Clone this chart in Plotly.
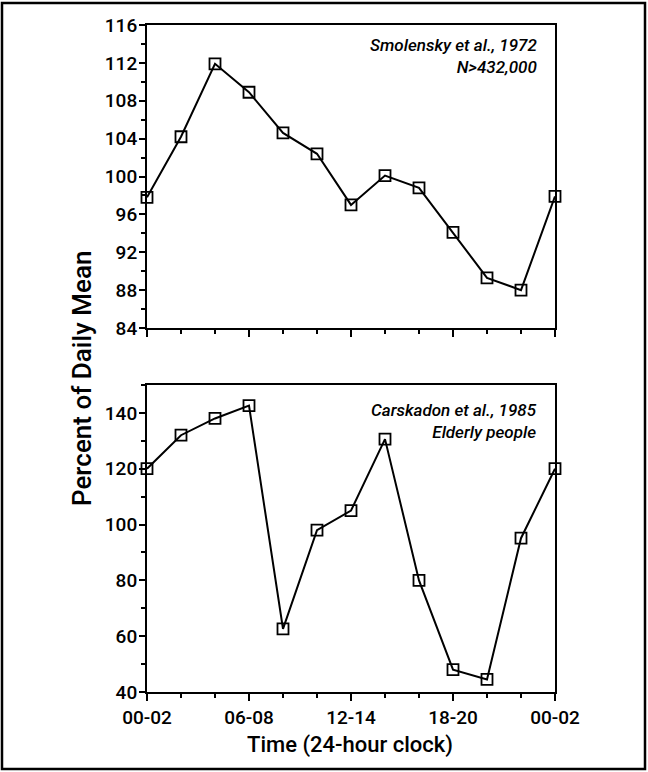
import plotly.graph_objects as go

# 2-hour bins, 00-02 through 22-24 and back to 00-02
slots = list(range(13))
tick_pos = [0, 3, 6, 9, 12]
tick_text = ["00-02", "06-08", "12-14", "18-20", "00-02"]

smolensky = [97.8, 104.2, 111.9, 108.9, 104.6, 102.4, 97.0, 100.1, 98.8, 94.1, 89.3, 88.0, 97.9]
carskadon = [120, 132, 138, 142.6, 62.6, 98, 105, 130.6, 80, 48, 44.5, 95.1, 120]

FONT = "Roboto, sans-serif"

fig = go.Figure()
marker = dict(symbol="square-open", size=11, color="black", line=dict(width=1.8))
line = dict(color="black", width=2)
fig.add_trace(go.Scatter(x=slots, y=smolensky, mode="lines+markers", marker=marker,
                         line=line, xaxis="x", yaxis="y", cliponaxis=False))
fig.add_trace(go.Scatter(x=slots, y=carskadon, mode="lines+markers", marker=marker,
                         line=line, xaxis="x2", yaxis="y2", cliponaxis=False))

axis_common = dict(showline=True, linecolor="black", linewidth=2, mirror=True,
                   showgrid=False, zeroline=False, ticks="outside", tickcolor="black",
                   tickwidth=2, tickfont=dict(family=FONT, size=19, color="black", weight=500))

xaxis = dict(axis_common, range=[0, 12], tickvals=tick_pos, ticklen=7,
             minor=dict(tickvals=slots, ticklen=4, tickwidth=1.5, tickcolor="black", ticks="outside"))

fig.update_layout(
    width=648, height=772,
    margin=dict(l=147, r=93, t=25, b=80),
    plot_bgcolor="white", paper_bgcolor="white",
    showlegend=False,
    xaxis=dict(xaxis, anchor="y", showticklabels=False),
    yaxis=dict(axis_common, domain=[0.5457, 1], range=[84, 116], dtick=4, ticklen=6,
               ticklabelstandoff=-2,
               minor=dict(dtick=2, ticklen=4, tickwidth=1.5, tickcolor="black", ticks="outside")),
    xaxis2=dict(xaxis, anchor="y2", ticktext=tick_text),
    yaxis2=dict(axis_common, domain=[0, 0.4603], range=[40, 150], tickvals=[40, 60, 80, 100, 120, 140],
                ticklen=6, ticklabelstandoff=-2,
                minor=dict(dtick=10, ticklen=4, tickwidth=1.5, tickcolor="black", ticks="outside")),
)

italic = dict(family=FONT, size=17, color="black", style="italic", weight=500)
fig.add_annotation(x=0.961, y=0.954, xref="paper", yref="paper", xanchor="right", yanchor="middle",
                   text="Smolensky et al., 1972<br>N>432,000", align="right", showarrow=False,
                   font=italic)
fig.add_annotation(x=0.961, y=0.406, xref="paper", yref="paper", xanchor="right", yanchor="middle",
                   text="Carskadon et al., 1985<br>Elderly people", align="right", showarrow=False,
                   font=italic)
fig.add_annotation(x=-0.1593, y=0.4693, xref="paper", yref="paper", xanchor="center", yanchor="middle",
                   text="Percent of Daily Mean", textangle=-90, showarrow=False,
                   font=dict(family=FONT, size=26, color="black", weight=500))
fig.add_annotation(x=0.4975, y=-0.0795, xref="paper", yref="paper", xanchor="center", yanchor="middle",
                   text="Time (24-hour clock)", showarrow=False,
                   font=dict(family=FONT, size=22, color="black", weight=500))

# outer frame around the whole figure
fig.add_shape(type="rect", xref="paper", yref="paper", x0=-0.3554, x1=1.2206, y0=-0.1154, y1=1.033,
              line=dict(color="black", width=2.5))

# drop the page's default body margin so the figure fills the window
fig.write_html("out.html", config={"displayModeBar": False},
               post_script="document.body.style.margin='0';")
